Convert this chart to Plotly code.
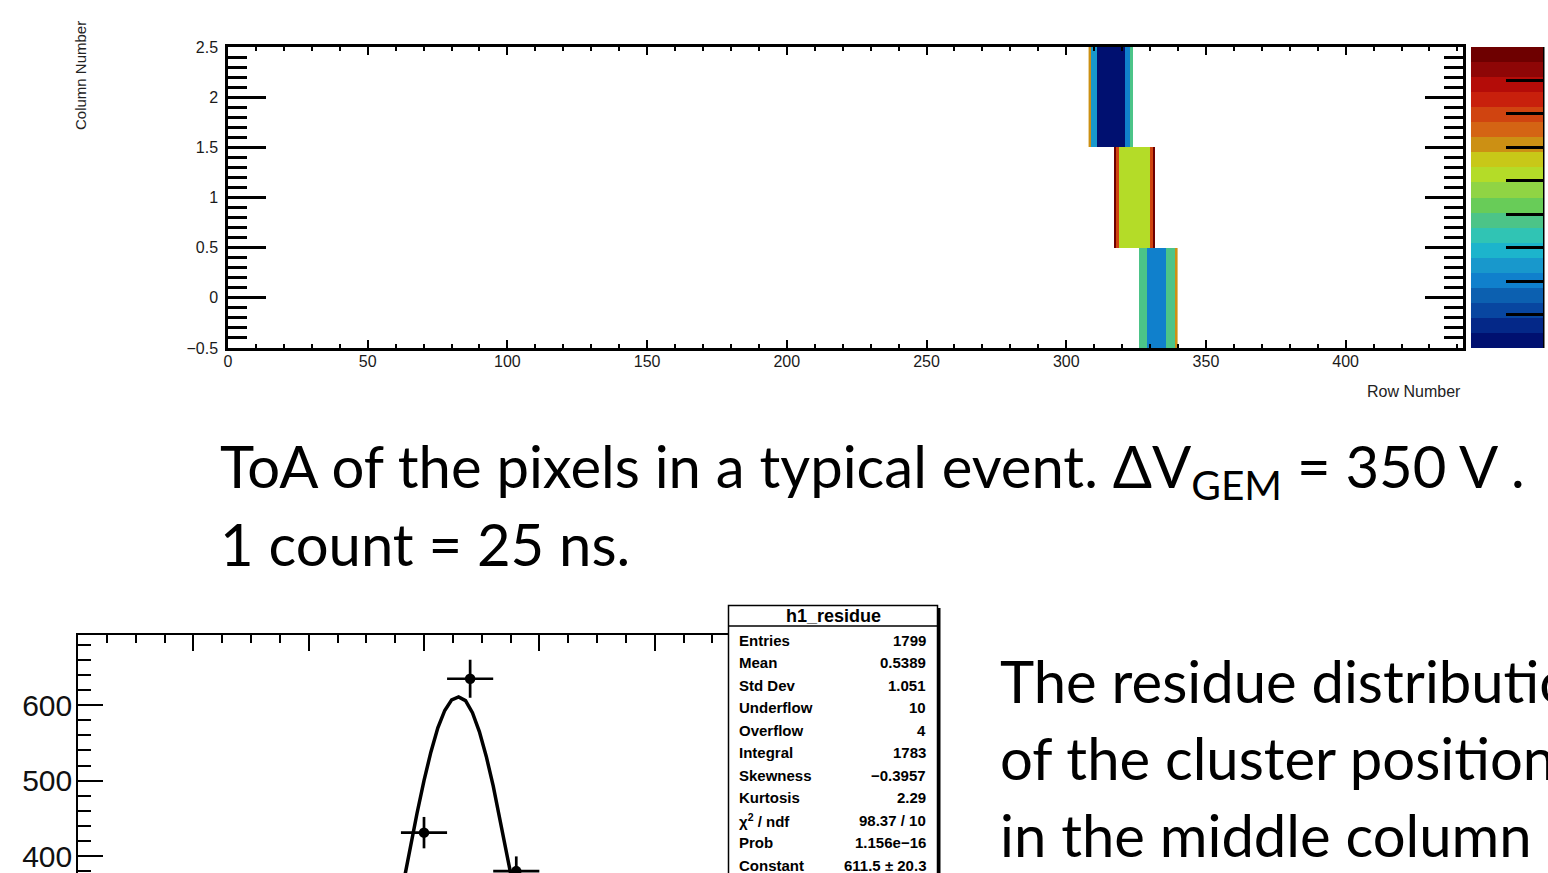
import plotly.graph_objects as go

W, H = 1548, 873

def px(x):
    return x / W

def py(y):
    return 1 - y / H

# ---------------- top: ToA map of one event ----------------
row_range = [0, 442]
row_tick_vals = [0, 50, 100, 150, 200, 250, 300, 350, 400]
row_tick_text = ["0", "50", "100", "150", "200", "250", "300", "350", "400"]
col_tick_vals = [-0.5, 0, 0.5, 1, 1.5, 2, 2.5]
col_tick_text = ["\u22120.5", "0", "0.5", "1", "1.5", "2", "2.5"]

# ToA (counts) per pixel, for each column, starting at a given row number
col0_start = 326
col0_toa = [15, 15, 15, 8, 8, 8, 8, 8, 8, 8, 15, 15, 15, 24]
col1_start = 317
col1_toa = [35, 28, 20, 20, 20, 20, 20, 20, 20, 20, 20, 20, 20, 28, 35]
col2_start = 308
col2_toa = [24, 10, 10, 0, 0, 0, 0, 0, 0, 0, 0, 0, 0, 8, 8, 15]

toa_min, toa_max = 0, 36
toa_ticks = [0, 4, 8, 12, 16, 20, 24, 28, 32, 36]

palette = [
    "#001070", "#042888", "#0846a0", "#0c60b0", "#1080cc",
    "#1898cc", "#1cb4cc", "#30c4b4", "#4cc488", "#68cc58",
    "#90d444", "#b4dc28", "#c8c818", "#cc9014", "#d46414",
    "#d04410", "#c8200c", "#b40c08", "#8e0606", "#6e0000",
]

# ---------------- bottom: residue histogram ----------------
res_x = [0.0, 0.8, 1.6]
res_y = [431, 635, 380]
res_yerr = [20.8, 25.2, 19.5]
res_xerr = [0.4, 0.4, 0.4]

fit_x = [-0.36, -0.24, -0.12, 0.0, 0.12, 0.24, 0.36, 0.48, 0.60, 0.72,
         0.84, 0.96, 1.08, 1.20, 1.32, 1.44, 1.56]
fit_y = [363, 411, 457, 500, 538, 570, 593, 607, 611, 606,
         590, 565, 532, 493, 449, 403, 355]

res_x_range = [-6, 6]
res_y_range = [377.5, 693]
res_y_ticks = [400, 500, 600]

stats_title = "h1_residue"
stats_labels = ["Entries", "Mean", "Std Dev", "Underflow", "Overflow", "Integral",
                "Skewness", "Kurtosis", "\u03c7<sup>2</sup> / ndf", "Prob", "Constant"]
stats_values = ["1799", "0.5389", "1.051", "10", "4", "1783",
                "\u22120.3957", "2.29", "98.37 / 10", "1.156e\u221216", "611.5 \u00b1 20.3"]

caption_top = ["ToA of the pixels in a typical event. \u0394V<sub>GEM</sub> = 350 V .",
               "1 count = 25 ns."]
caption_right = ["The residue distribution", "of the cluster position",
                 "in the middle column"]

# ---------------- build heatmap matrix ----------------
cols = [(col0_start, col0_toa), (col1_start, col1_toa), (col2_start, col2_toa)]
first = min(s for s, _ in cols)
last = max(s + len(v) for s, v in cols)
x_edges = list(range(first, last + 1))
z = []
for s, vals in cols:
    row = [None] * (last - first)
    for i, v in enumerate(vals):
        row[s - first + i] = v
    z.append(row)

colorscale = []
n = len(palette)
for i, c in enumerate(palette):
    colorscale.append([i / n, c])
    colorscale.append([(i + 1) / n, c])

ROOT_FONT = "Liberation Sans"
SLIDE_FONT = "Lato"

fig = go.Figure()

fig.add_trace(go.Heatmap(
    x=x_edges, y=[0, 1, 2], z=z,
    zmin=toa_min, zmax=toa_max, colorscale=colorscale,
    xaxis="x", yaxis="y", hoverinfo="skip",
    colorbar=dict(
        x=px(1471), xanchor="left", y=py(197.5), yanchor="middle",
        len=301, lenmode="pixels", thickness=72, thicknessmode="pixels",
        xpad=0, ypad=0, outlinewidth=0,
        ticks="inside", ticklen=37, tickwidth=3, tickcolor="black",
        tickmode="array", tickvals=toa_ticks, showticklabels=False,
    ),
))

fig.add_trace(go.Scatter(
    x=fit_x, y=fit_y, mode="lines", xaxis="x2", yaxis="y2",
    line=dict(color="black", width=3.5), hoverinfo="skip", showlegend=False,
))
fig.add_trace(go.Scatter(
    x=res_x, y=res_y, mode="markers", xaxis="x2", yaxis="y2",
    marker=dict(color="black", size=10.5),
    error_y=dict(type="data", array=res_yerr, visible=True, color="black", thickness=2.7, width=0),
    error_x=dict(type="data", array=res_xerr, visible=True, color="black", thickness=2.7, width=0),
    hoverinfo="skip", showlegend=False,
))

fig.update_layout(
    width=W, height=H, margin=dict(l=0, r=0, t=0, b=0, pad=0, autoexpand=False),
    paper_bgcolor="white", plot_bgcolor="white", showlegend=False,
    font=dict(family=ROOT_FONT, color="#111111"),
    xaxis=dict(
        domain=[px(228), px(1463)], range=row_range, anchor="y",
        showline=True, linewidth=2.5, linecolor="black", mirror="allticks",
        ticks="inside", ticklen=8, tickwidth=2, tickcolor="black",
        tickmode="array", tickvals=row_tick_vals, ticktext=row_tick_text,
        minor=dict(tickmode="linear", tick0=0, dtick=10, ticks="inside", ticklen=4,
                   tickwidth=2, tickcolor="black", showgrid=False),
        tickfont=dict(size=16, family=ROOT_FONT, color="#1a1a1a"),
        ticklabelstandoff=-3,
        showgrid=False, zeroline=False,
    ),
    yaxis=dict(
        domain=[py(348), py(47)], range=[-0.5, 2.5], anchor="x",
        showline=True, linewidth=2.5, linecolor="black", mirror="allticks",
        ticks="inside", ticklen=38, tickwidth=2.5, tickcolor="black",
        tickmode="array", tickvals=col_tick_vals, ticktext=col_tick_text,
        minor=dict(tickmode="linear", tick0=-0.5, dtick=0.1, ticks="inside", ticklen=19,
                   tickwidth=2.5, tickcolor="black", showgrid=False),
        tickfont=dict(size=16, family=ROOT_FONT, color="#1a1a1a"),
        ticklabelstandoff=4,
        showgrid=False, zeroline=False,
    ),
    xaxis2=dict(
        domain=[px(78), px(770)], range=res_x_range, anchor="y2", side="top",
        showline=True, linewidth=1.5, linecolor="black",
        ticks="inside", ticklen=16, tickwidth=1.5, tickcolor="black",
        tick0=0, dtick=2, showticklabels=False,
        minor=dict(tick0=0, dtick=0.5, ticks="inside", ticklen=8, tickwidth=1.5,
                   tickcolor="black", showgrid=False),
        showgrid=False, zeroline=False,
    ),
    yaxis2=dict(
        domain=[0, py(635)], range=res_y_range, anchor="x2",
        showline=True, linewidth=1.5, linecolor="black",
        ticks="inside", ticklen=25, tickwidth=1.5, tickcolor="black",
        tickmode="array", tickvals=res_y_ticks,
        minor=dict(tickmode="linear", tick0=0, dtick=20, ticks="inside", ticklen=13,
                   tickwidth=1.5, tickcolor="black", showgrid=False),
        tickfont=dict(size=30, family=ROOT_FONT, color="#111111"),
        ticklabelstandoff=-2,
        showgrid=False, zeroline=False,
    ),
)

shapes = []
# colour bar right edge
shapes.append(dict(type="line", xref="paper", yref="paper",
                   x0=px(1543), x1=px(1543), y0=py(47), y1=py(348),
                   line=dict(color="black", width=3)))
# stats box shadow + box + separator
shapes.append(dict(type="rect", xref="paper", yref="paper",
                   x0=px(731), x1=px(940.5), y0=py(880), y1=py(608),
                   fillcolor="black", line=dict(width=0)))
shapes.append(dict(type="rect", xref="paper", yref="paper",
                   x0=px(728.5), x1=px(937.5), y0=py(880), y1=py(605.5),
                   fillcolor="white", line=dict(color="black", width=1.5)))
shapes.append(dict(type="line", xref="paper", yref="paper",
                   x0=px(728.5), x1=px(937.5), y0=py(626), y1=py(626),
                   line=dict(color="black", width=1.5)))
fig.update_layout(shapes=shapes)

ann = []
ann.append(dict(text="Column Number", x=px(80), y=py(76), xref="paper", yref="paper",
                textangle=-90, showarrow=False, xanchor="center", yanchor="middle",
                font=dict(size=15, family=ROOT_FONT, color="#222222")))
ann.append(dict(text="Row Number", x=px(1463), y=py(392), xref="paper", yref="paper",
                showarrow=False, xanchor="right", yanchor="middle",
                font=dict(size=16, family=ROOT_FONT, color="#222222")))

ann.append(dict(text="<b>" + stats_title + "</b>", x=px(834), y=py(616), xref="paper", yref="paper",
                showarrow=False, xanchor="center", yanchor="middle",
                font=dict(size=18, family=ROOT_FONT, color="black")))
for i, (lab, val) in enumerate(zip(stats_labels, stats_values)):
    yy = 640 + 22.5 * i
    ann.append(dict(text="<b>" + lab + "</b>", x=px(737), y=py(yy), xref="paper", yref="paper",
                    showarrow=False, xanchor="left", yanchor="middle",
                    font=dict(size=15, family=ROOT_FONT, color="black")))
    ann.append(dict(text="<b>" + val + "</b>", x=px(928), y=py(yy), xref="paper", yref="paper",
                    showarrow=False, xanchor="right", yanchor="middle",
                    font=dict(size=15, family=ROOT_FONT, color="black")))

FS = 58
for i, line in enumerate(caption_top):
    base = 486 + 78 * i
    ann.append(dict(text=line, x=px(218), y=py(base - 0.987 * FS), xref="paper", yref="paper",
                    showarrow=False, xanchor="left", yanchor="top",
                    font=dict(size=FS, family=SLIDE_FONT, color="black")))
for i, line in enumerate(caption_right):
    base = 701 + 77 * i
    ann.append(dict(text=line, x=px(998), y=py(base - 0.987 * FS), xref="paper", yref="paper",
                    showarrow=False, xanchor="left", yanchor="top",
                    font=dict(size=FS, family=SLIDE_FONT, color="black")))
fig.update_layout(annotations=ann)

fig.write_html("out.html")
